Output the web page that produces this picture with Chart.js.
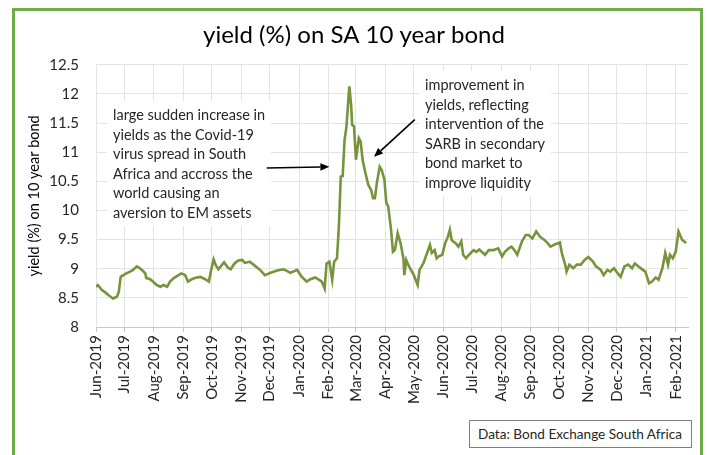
<!DOCTYPE html>
<html>
<head>
<meta charset="utf-8">
<title>SA 10 year bond yield</title>
<script src="https://cdn.jsdelivr.net/npm/chart.js@4.4.1/dist/chart.umd.min.js"></script>
<style>
  html, body { margin: 0; padding: 0; background: #fff; }
  #wrap { position: relative; width: 707px; height: 455px; overflow: hidden; font-family: Lato, 'Open Sans', sans-serif; color: #262626; }
  #frame { position: absolute; left: 12px; top: 8px; width: 685px; height: 480px; border: 3px solid #70ad47; pointer-events: none; }
  #chart { position: absolute; left: 0; top: 0; }
  .note { position: absolute; font-size: 14.5px; line-height: 19.5px; padding: 4px 6px; white-space: nowrap; }
  #noteLeft { left: 107px; top: 101px; }
  #noteRight { left: 419px; top: 71px; }
  #source { position: absolute; left: 469px; top: 420px; width: 223px; height: 28px; box-sizing: border-box;
            border: 1px solid #7f7f7f; background: #fff; font-size: 13.6px; line-height: 26px; padding-left: 8px; white-space: nowrap; }
</style>
</head>
<body>
<div id="wrap">
  <canvas id="chart" width="707" height="455"></canvas>
  <div class="note" id="noteLeft">large sudden increase in<br>yields as the Covid-19<br>virus spread in South<br>Africa and accross the<br>world causing an<br>aversion to EM assets</div>
  <div class="note" id="noteRight">improvement in<br>yields, reflecting<br>intervention of the<br>SARB in secondary<br>bond market to<br>improve liquidity</div>
  <div id="source">Data: Bond Exchange South Africa</div>
  <div id="frame"></div>
</div>
<script>
// days counted from 1 Jun 2019
const monthLabels = ['Jun-2019', 'Jul-2019', 'Aug-2019', 'Sep-2019', 'Oct-2019', 'Nov-2019', 'Dec-2019',
  'Jan-2020', 'Feb-2020', 'Mar-2020', 'Apr-2020', 'May-2020', 'Jun-2020', 'Jul-2020', 'Aug-2020',
  'Sep-2020', 'Oct-2020', 'Nov-2020', 'Dec-2020', 'Jan-2021', 'Feb-2021'];
const monthStarts = [0, 30, 61, 92, 122, 153, 183, 214, 245, 274, 305, 335, 366, 396, 427, 458, 488, 519, 549, 580, 611];
const yTicks = [8, 8.5, 9, 9.5, 10, 10.5, 11, 11.5, 12, 12.5];

const days = [
  0, 2, 6, 10, 13, 18, 22, 24, 26, 29,
  32, 36, 39, 43, 46, 49, 52, 53, 57, 60,
  64, 68, 71, 75, 78, 82, 87, 90, 94, 97,
  101, 104, 110, 115, 119, 121, 124, 126, 129, 133,
  135, 139, 142, 146, 150, 154, 157, 162, 166, 173,
  178, 184, 191, 198, 205, 212, 217, 222, 226, 231,
  234, 238, 241, 243, 246, 249, 251, 254, 256, 258,
  260, 262, 264, 267, 269, 270, 272, 274, 277, 279,
  281, 284, 287, 290, 292, 294, 296, 299, 301, 304,
  306, 308, 311, 313, 315, 318, 321, 324, 325, 327,
  330, 335, 339, 341, 345, 349, 352, 354, 357, 359,
  361, 365, 368, 371, 373, 375, 379, 382, 385, 387,
  390, 395, 398, 401, 404, 408, 410, 414, 419, 424,
  428, 431, 435, 438, 441, 444, 449, 453, 456, 460,
  464, 468, 473, 476, 479, 484, 489, 491, 495, 496,
  499, 503, 507, 511, 515, 519, 524, 527, 532, 535,
  539, 542, 546, 550, 553, 557, 561, 565, 568, 574,
  579, 583, 586, 590, 593, 597, 600, 603, 605, 608,
  611, 614, 618, 620, 622
];
const yields = [
  8.69, 8.72, 8.64, 8.59, 8.55, 8.49, 8.52, 8.60, 8.86, 8.89,
  8.92, 8.95, 8.98, 9.04, 9.01, 8.97, 8.92, 8.84, 8.82, 8.78,
  8.72, 8.69, 8.72, 8.69, 8.78, 8.84, 8.89, 8.92, 8.89, 8.78,
  8.82, 8.84, 8.86, 8.82, 8.78, 8.95, 9.16, 9.07, 8.99, 9.07,
  9.11, 9.02, 8.99, 9.09, 9.14, 9.15, 9.10, 9.12, 9.07, 8.98,
  8.89, 8.93, 8.97, 8.99, 8.93, 8.98, 8.86, 8.78, 8.82, 8.85,
  8.82, 8.78, 8.66, 9.09, 9.12, 8.81, 9.12, 9.18, 9.72, 10.58,
  10.59, 11.21, 11.44, 12.13, 11.79, 11.47, 11.44, 10.87, 11.24, 11.18,
  10.87, 10.64, 10.44, 10.35, 10.21, 10.21, 10.47, 10.75, 10.70, 10.53,
  10.13, 10.07, 9.67, 9.29, 9.32, 9.61, 9.44, 9.18, 8.89, 9.15,
  9.04, 8.89, 8.72, 8.98, 9.09, 9.27, 9.41, 9.27, 9.32, 9.18,
  9.21, 9.24, 9.44, 9.55, 9.67, 9.49, 9.44, 9.38, 9.47, 9.24,
  9.18, 9.27, 9.32, 9.29, 9.33, 9.27, 9.24, 9.32, 9.32, 9.35,
  9.21, 9.29, 9.35, 9.38, 9.32, 9.24, 9.47, 9.58, 9.58, 9.52,
  9.64, 9.55, 9.49, 9.44, 9.38, 9.42, 9.45, 9.27, 9.04, 8.95,
  9.07, 9.01, 9.07, 9.07, 9.15, 9.20, 9.12, 9.04, 8.98, 8.89,
  8.98, 8.95, 9.01, 8.92, 8.86, 9.04, 9.07, 9.01, 9.09, 9.01,
  8.95, 8.75, 8.78, 8.85, 8.81, 9.01, 9.27, 9.07, 9.24, 9.18,
  9.29, 9.64, 9.49, 9.47, 9.44
];

// annotation arrows, [day, yield] from -> to
const arrows = [
  { from: [180, 10.73], to: [246, 10.75] },
  { from: [336, 11.56], to: [293, 10.92] }
];

const FONT = "Lato, 'Open Sans', sans-serif";
const GRID = '#e3e3e3';

function drawArrow(ctx, x1, y1, x2, y2) {
  const ang = Math.atan2(y2 - y1, x2 - x1);
  const len = 9, half = 3.8;
  const bx = x2 - len * Math.cos(ang), by = y2 - len * Math.sin(ang);
  ctx.beginPath();
  ctx.moveTo(x1, y1);
  ctx.lineTo(bx, by);
  ctx.stroke();
  ctx.beginPath();
  ctx.moveTo(x2, y2);
  ctx.lineTo(bx + half * Math.sin(ang), by - half * Math.cos(ang));
  ctx.lineTo(bx - half * Math.sin(ang), by + half * Math.cos(ang));
  ctx.closePath();
  ctx.fill();
}

const notesPlugin = {
  id: 'notes',
  // text boxes are filled white so the gridlines stop behind them
  beforeDatasetsDraw(chart) {
    const ctx = chart.ctx;
    ctx.save();
    ctx.fillStyle = '#fff';
    document.querySelectorAll('.note').forEach(el => {
      ctx.fillRect(el.offsetLeft, el.offsetTop, el.offsetWidth, el.offsetHeight);
    });
    ctx.restore();
  },
  afterDatasetsDraw(chart) {
    const { x, y } = chart.scales;
    const ctx = chart.ctx;
    ctx.save();
    ctx.strokeStyle = '#000';
    ctx.fillStyle = '#000';
    ctx.lineWidth = 1.6;
    arrows.forEach(a => {
      drawArrow(ctx,
        x.getPixelForValue(a.from[0]), y.getPixelForValue(a.from[1]),
        x.getPixelForValue(a.to[0]), y.getPixelForValue(a.to[1]));
    });
    ctx.restore();
  }
};

new Chart(document.getElementById('chart'), {
  type: 'line',
  data: {
    datasets: [{
      label: 'yield (%)',
      data: days.map((d, i) => ({ x: d, y: yields[i] })),
      borderColor: '#77933c',
      borderWidth: 2.6,
      pointRadius: 0,
      tension: 0,
      fill: false
    }]
  },
  options: {
    responsive: false,
    animation: false,
    devicePixelRatio: 1,
    layout: { padding: { left: 20, right: 19, top: 0, bottom: 0 } },
    plugins: {
      legend: { display: false },
      tooltip: { enabled: false },
      title: {
        display: true,
        text: 'yield (%) on SA 10 year bond',
        color: '#000',
        font: { family: FONT, size: 24, weight: 'normal', lineHeight: 1.2 },
        padding: { top: 21, bottom: 15 }
      }
    },
    scales: {
      x: {
        type: 'linear',
        min: 0,
        max: 624,
        afterBuildTicks: s => { s.ticks = monthStarts.map(v => ({ value: v })); },
        afterFit: s => { s.height = 128; },
        ticks: {
          autoSkip: false,
          minRotation: 90,
          maxRotation: 90,
          padding: 3,
          color: '#262626',
          font: { family: FONT, size: 15 },
          callback: (v, i) => monthLabels[i]
        },
        grid: { color: GRID, tickLength: 5, tickColor: '#c8c8c8' },
        border: { color: '#c8c8c8' }
      },
      y: {
        min: 8,
        max: 12.5,
        afterBuildTicks: s => { s.ticks = yTicks.map(v => ({ value: v })); },
        afterFit: s => { s.width = 76; },
        ticks: {
          padding: 17,
          color: '#262626',
          font: { family: FONT, size: 15 },
          callback: v => String(v)
        },
        grid: { color: GRID, drawTicks: false },
        border: { display: false },
        title: {
          display: true,
          text: 'yield (%) on 10 year bond',
          color: '#000',
          font: { family: FONT, size: 14.5 },
          padding: { top: 6, bottom: 0 }
        }
      }
    }
  },
  plugins: [notesPlugin]
});
</script>
</body>
</html>
